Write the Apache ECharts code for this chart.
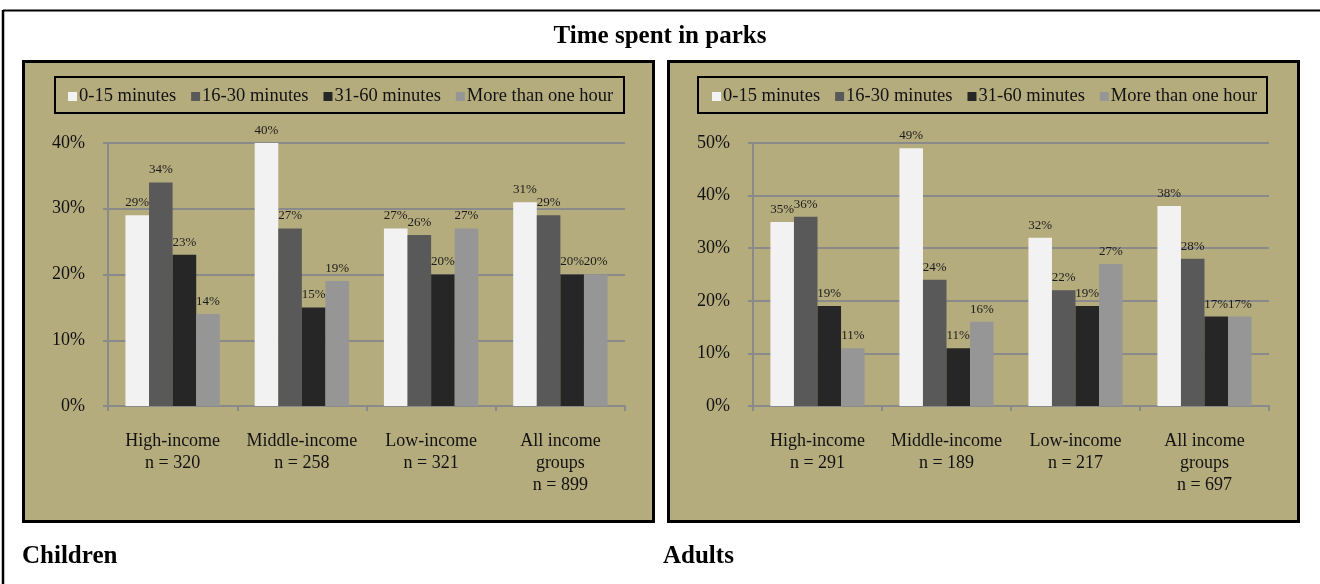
<!DOCTYPE html>
<html>
<head>
<meta charset="utf-8">
<title>Time spent in parks</title>
<script src="https://cdn.jsdelivr.net/npm/echarts@6/dist/echarts.min.js"></script>
<style>
  html, body { margin: 0; padding: 0; background: #ffffff; }
  #chart { width: 1320px; height: 584px; }
</style>
</head>
<body>
<div id="chart"></div>
<script>
// Category labels (income group and sample size)
const childCategories = ['High-income\nn = 320', 'Middle-income\nn = 258', 'Low-income\nn = 321', 'All income\ngroups\nn = 899'];
const adultCategories = ['High-income\nn = 291', 'Middle-income\nn = 189', 'Low-income\nn = 217', 'All income\ngroups\nn = 697'];

// Duration classes
const durations = ['0-15 minutes', '16-30 minutes', '31-60 minutes', 'More than one hour'];

// Children: share of respondents (%) per duration class
const child0to15 = [29, 40, 27, 31];
const child16to30 = [34, 27, 26, 29];
const child31to60 = [23, 15, 20, 20];
const childOverHour = [14, 19, 27, 20];

// Adults: share of respondents (%) per duration class
const adult0to15 = [35, 49, 32, 38];
const adult16to30 = [36, 24, 22, 28];
const adult31to60 = [19, 11, 19, 17];
const adultOverHour = [11, 16, 27, 17];

// Axis tick settings
const childMax = 40;
const adultMax = 50;
const tickStep = 10;

const barColors = ['#f2f2f2', '#595959', '#262626', '#969696'];
const panelColor = '#b5ac7e';
const gridColor = '#8a8a8a';
const serif = '"Liberation Serif", "Times New Roman", serif';

const chart = echarts.init(document.getElementById('chart'));

function makeSeries(name, data, idx, axisIdx) {
  return {
    name: name,
    type: 'bar',
    xAxisIndex: axisIdx,
    yAxisIndex: axisIdx,
    data: data,
    barGap: '0%',
    barCategoryGap: '27%',
    itemStyle: { color: barColors[idx] },
    label: {
      show: true,
      position: 'top',
      distance: 6,
      formatter: p => p.value + '%',
      fontFamily: serif,
      fontSize: 13,
      color: '#1a1a1a'
    },
    emphasis: { disabled: true },
    animation: false
  };
}

const childSeries = [child0to15, child16to30, child31to60, childOverHour];
const adultSeries = [adult0to15, adult16to30, adult31to60, adultOverHour];

const series = [];
durations.forEach((d, i) => series.push(makeSeries(d, childSeries[i], i, 0)));
durations.forEach((d, i) => series.push(makeSeries(d, adultSeries[i], i, 1)));

function xAxis(cats, gridIndex) {
  return {
    type: 'category',
    gridIndex: gridIndex,
    data: cats,
    axisLine: { lineStyle: { color: gridColor, width: 2 } },
    axisTick: { show: true, length: 5, lineStyle: { color: gridColor, width: 2 } },
    axisLabel: {
      fontFamily: serif,
      fontSize: 18,
      lineHeight: 22,
      color: '#111',
      margin: 24,
      interval: 0
    }
  };
}

function yAxis(max, gridIndex) {
  return {
    type: 'value',
    gridIndex: gridIndex,
    min: 0,
    max: max,
    interval: tickStep,
    axisLine: { show: true, lineStyle: { color: gridColor, width: 2 } },
    axisTick: { show: true, length: 5, lineStyle: { color: gridColor, width: 2 } },
    splitLine: { show: true, lineStyle: { color: gridColor, width: 2 } },
    axisLabel: {
      formatter: '{value}%',
      fontFamily: serif,
      fontSize: 18,
      color: '#111',
      margin: 23
    }
  };
}

function legend(left) {
  return {
    left: left,
    top: 87,
    padding: 0,
    orient: 'horizontal',
    icon: 'rect',
    itemWidth: 9,
    itemHeight: 9,
    itemGap: 15,
    selectedMode: false,
    data: durations.map((d, i) => ({ name: d, itemStyle: { color: barColors[i] } })),
    textStyle: { fontFamily: serif, fontSize: 18.5, color: '#111', padding: [0, 0, 0, -3] }
  };
}

chart.setOption({
  backgroundColor: '#ffffff',
  animation: false,
  title: {
    text: 'Time spent in parks',
    left: 'center',
    top: 19,
    textStyle: { fontFamily: serif, fontSize: 25, fontWeight: 'bold', color: '#000' }
  },
  legend: [legend(68), legend(712)],
  grid: [
    { left: 108, top: 143, width: 517, height: 263 },
    { left: 753, top: 143, width: 516, height: 263 }
  ],
  xAxis: [xAxis(childCategories, 0), xAxis(adultCategories, 1)],
  yAxis: [yAxis(childMax, 0), yAxis(adultMax, 1)],
  series: series,
  graphic: [
    // outer frame (top and left edges)
    { type: 'line', z: -5, shape: { x1: 3, y1: 10.5, x2: 1320, y2: 10.5 }, style: { stroke: '#000', lineWidth: 2 } },
    { type: 'line', z: -5, shape: { x1: 3, y1: 10, x2: 3, y2: 584 }, style: { stroke: '#000', lineWidth: 2.5 } },
    // chart panels
    { type: 'rect', z: -10, shape: { x: 23.5, y: 61.5, width: 630, height: 460 }, style: { fill: panelColor, stroke: '#000', lineWidth: 3 } },
    { type: 'rect', z: -10, shape: { x: 668.5, y: 61.5, width: 630, height: 460 }, style: { fill: panelColor, stroke: '#000', lineWidth: 3 } },
    // legend frames
    { type: 'rect', z: -5, shape: { x: 55, y: 77, width: 569, height: 36 }, style: { fill: 'none', stroke: '#000', lineWidth: 2 } },
    { type: 'rect', z: -5, shape: { x: 698, y: 77, width: 569, height: 36 }, style: { fill: 'none', stroke: '#000', lineWidth: 2 } },
    // panel captions
    { type: 'text', left: 22, top: 544, style: { text: 'Children', fontFamily: serif, fontSize: 25, fontWeight: 'bold', fill: '#000' } },
    { type: 'text', left: 663, top: 544, style: { text: 'Adults', fontFamily: serif, fontSize: 25, fontWeight: 'bold', fill: '#000' } }
  ]
});
</script>
</body>
</html>
